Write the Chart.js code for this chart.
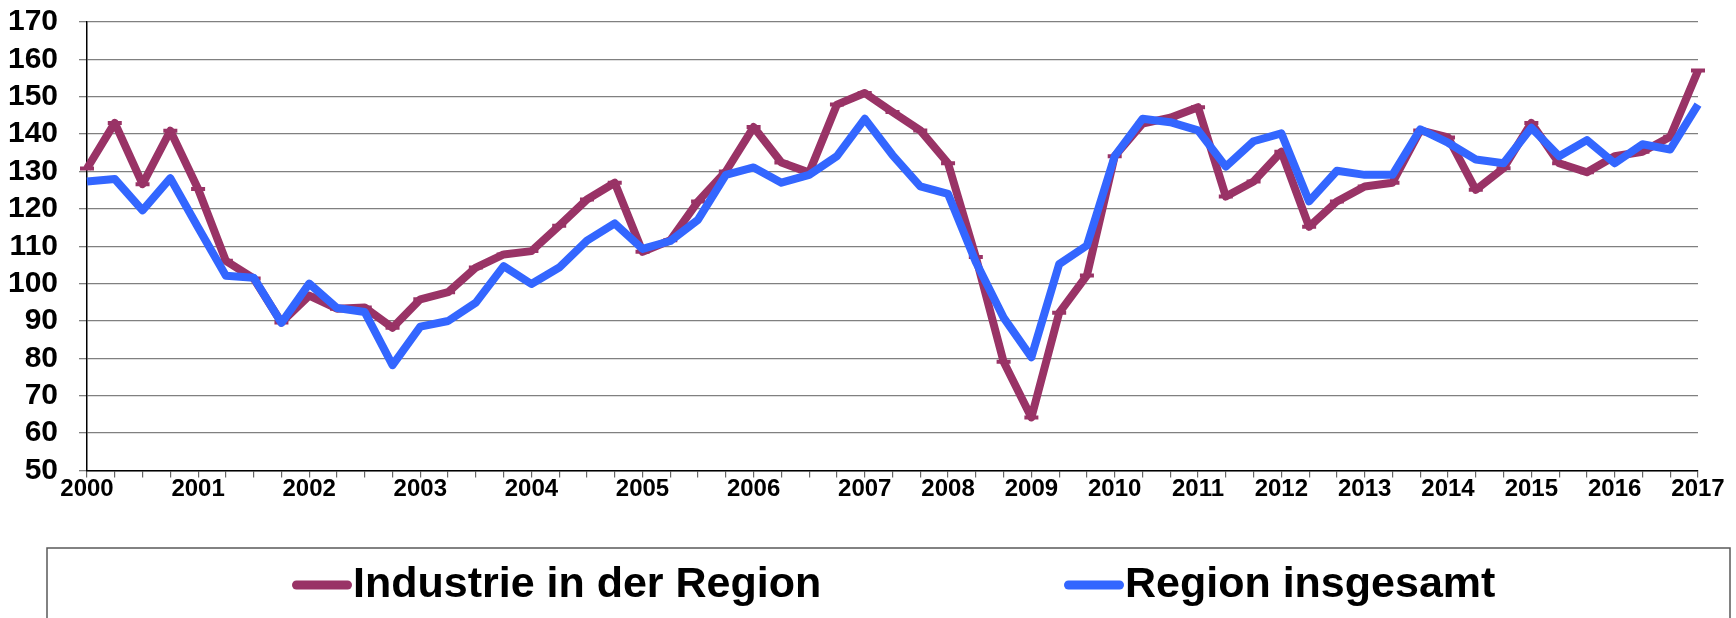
<!DOCTYPE html>
<html>
<head>
<meta charset="utf-8">
<script src="https://cdn.jsdelivr.net/npm/chart.js@4.4.0/dist/chart.umd.min.js"></script>
<style>
  html, body { margin: 0; padding: 0; background: #fff; }
  #wrap { width: 1736px; height: 618px; }
</style>
</head>
<body>
<div id="wrap"><canvas id="chart" width="1736" height="618"></canvas></div>
<script>
// quarterly points, only some carry a year label
var quarters = [
  '2000', '', '', '', '2001', '', '', '', '2002', '', '', '', '2003', '', '', '',
  '2004', '', '', '', '2005', '', '', '', '2006', '', '', '', '2007', '', '',
  '2008', '', '', '2009', '', '', '2010', '', '', '2011', '', '', '2012', '', '',
  '2013', '', '', '2014', '', '', '2015', '', '', '2016', '', '', '2017'
];

var industrie = [
  130.8, 143.0, 126.6, 140.9, 125.3, 106.1, 101.4, 89.6, 96.8, 93.3,
  93.6, 88.2, 95.8, 97.7, 104.3, 107.8, 108.7, 115.5, 122.5, 127.0,
  108.5, 111.6, 122.0, 130.0, 141.9, 132.4, 129.7, 147.9, 151.0, 145.9,
  141.0, 132.2, 107.1, 79.1, 64.2, 92.2, 102.2, 134.1, 142.8, 144.4,
  147.2, 123.3, 127.3, 135.3, 115.2, 122.0, 126.0, 127.0, 141.0, 139.1,
  125.1, 130.9, 143.0, 132.2, 129.8, 134.1, 135.3, 139.3, 157.0
];

var regionGesamt = [
  127.3, 128.0, 119.6, 128.2, 115.0, 102.1, 101.6, 89.5, 100.0, 93.5,
  92.4, 78.2, 88.5, 90.0, 94.9, 104.7, 99.9, 104.3, 111.5, 116.1,
  109.3, 111.4, 117.1, 129.1, 131.1, 127.0, 129.1, 134.1, 144.1, 134.4,
  126.0, 124.0, 105.8, 90.9, 80.3, 105.2, 110.2, 134.1, 144.1, 143.2,
  141.0, 131.3, 138.1, 140.2, 122.0, 130.2, 129.1, 129.1, 141.3, 137.7,
  133.2, 132.2, 141.7, 134.1, 138.4, 132.2, 137.3, 135.9, 147.9
];

var FONT = '"Liberation Sans", Arial, sans-serif';

// legend drawn by hand: framed box, short line sample, big bold text right after it
var legendBox = {
  id: 'legendBox',
  afterDraw: function (chart) {
    var ctx = chart.ctx;
    var startX = [292, 1064];
    var y = 585;
    ctx.save();
    ctx.strokeStyle = '#595959';
    ctx.lineWidth = 1.5;
    ctx.strokeRect(47, 548, 1683, 100);
    ctx.font = 'bold 43px ' + FONT;
    ctx.textBaseline = 'middle';
    chart.data.datasets.forEach(function (ds, i) {
      var x = startX[i];
      ctx.strokeStyle = ds.borderColor;
      ctx.lineWidth = 9;
      ctx.lineCap = 'round';
      ctx.beginPath();
      ctx.moveTo(x + 4.5, y);
      ctx.lineTo(x + 55.5, y);
      ctx.stroke();
      ctx.fillStyle = '#000';
      ctx.fillText(ds.label, x + 61, y);
    });
    ctx.restore();
  }
};

new Chart(document.getElementById('chart'), {
  type: 'line',
  data: {
    labels: quarters,
    datasets: [
      {
        label: 'Industrie in der Region',
        data: industrie,
        borderColor: '#993366',
        backgroundColor: '#993366',
        borderWidth: 8,
        borderJoinStyle: 'round',
        pointStyle: 'line',
        pointRadius: 7,
        pointBorderWidth: 4,
        pointBorderColor: '#993366',
        tension: 0,
        order: 2
      },
      {
        label: 'Region insgesamt',
        data: regionGesamt,
        borderColor: '#3366FF',
        backgroundColor: '#3366FF',
        borderWidth: 8,
        borderJoinStyle: 'round',
        pointRadius: 0,
        tension: 0,
        order: 1
      }
    ]
  },
  options: {
    responsive: false,
    animation: false,
    devicePixelRatio: 1,
    layout: { autoPadding: false, padding: { left: 0, right: 38, top: 22, bottom: 104 } },
    plugins: {
      legend: { display: false },
      tooltip: { enabled: false }
    },
    scales: {
      x: {
        offset: false,
        grid: { drawOnChartArea: false, drawTicks: true, tickLength: 7, color: '#666', lineWidth: 1.2 },
        border: { display: true, color: '#000', width: 1.5 },
        ticks: {
          autoSkip: false,
          maxRotation: 0,
          minRotation: 0,
          padding: -3,
          color: '#000',
          font: { family: FONT, size: 24, weight: 'bold' }
        },
        afterFit: function (scale) {
          scale.height = 43.5;
          scale.paddingLeft = 0;
          scale.paddingRight = 0;
        }
      },
      y: {
        min: 50,
        max: 170,
        grid: { color: '#808080', lineWidth: 1.3, tickLength: 8 },
        border: { display: true, color: '#000', width: 1.5 },
        ticks: {
          stepSize: 10,
          autoSkip: false,
          padding: 21,
          color: '#000',
          font: { family: FONT, size: 30, weight: 'bold' }
        },
        afterFit: function (scale) {
          scale.width = 87;
          scale.paddingTop = 0;
          scale.paddingBottom = 0;
        }
      }
    }
  },
  plugins: [legendBox]
});
</script>
</body>
</html>
